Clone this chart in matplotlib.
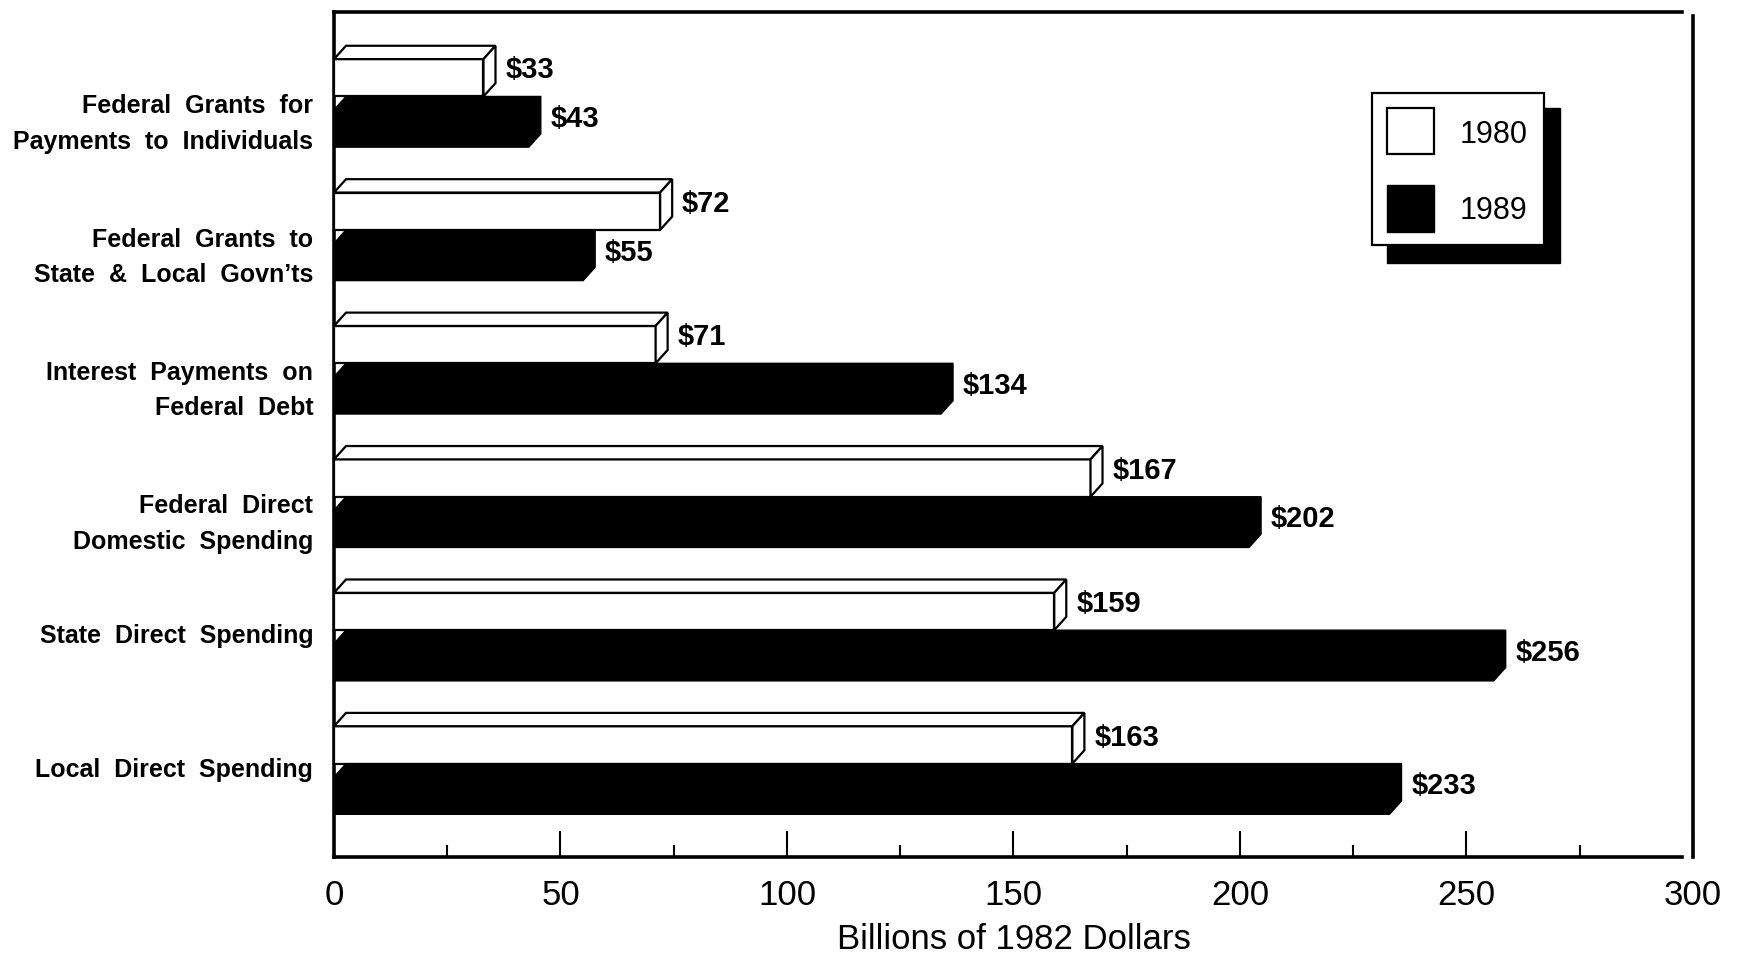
import matplotlib.pyplot as plt
from matplotlib.patches import Polygon, Rectangle
import numpy as np

plt.rcParams['font.family'] = ['Liberation Sans', 'DejaVu Sans']

# Spending categories, billions of 1982 dollars
categories = [
    "Federal  Grants  for\nPayments  to  Individuals",
    "Federal  Grants  to\nState  &  Local  Govn\u2019ts",
    "Interest  Payments  on\nFederal  Debt",
    "Federal  Direct\nDomestic  Spending",
    "State  Direct  Spending",
    "Local  Direct  Spending",
]
spend_1980 = [33, 72, 71, 167, 159, 163]
spend_1989 = [43, 55, 134, 202, 256, 233]
years = ["1980", "1989"]

W, H = 1740, 955
fig = plt.figure(figsize=(W / 100, H / 100), dpi=100)
ax = fig.add_axes([334 / W, 1 - 857 / H, (1693 - 334) / W, (857 - 12) / H])
ax.set_xlim(0, 300)
ax.set_ylim(5.70, -0.633)

front = 0.28     # height of a bar's front face
dy = 0.10        # depth of the 3-D top face
dx = 2.65        # depth of the 3-D side face, in dollars

narrow = ['Liberation Sans Narrow', 'Liberation Sans', 'DejaVu Sans']

for i, (v80, v89) in enumerate(zip(spend_1980, spend_1989)):
    c = i
    top = c - front
    # 1980: open box with front, top and side faces
    faces = [
        [(0, c), (v80, c), (v80, top), (0, top)],
        [(0, top), (dx, top - dy), (v80 + dx, top - dy), (v80, top)],
        [(v80, c), (v80 + dx, c - dy), (v80 + dx, top - dy), (v80, top)],
    ]
    for f in faces:
        ax.add_patch(Polygon(f, closed=True, facecolor='white', edgecolor='black',
                             lw=1.6, joinstyle='miter', zorder=3))
    # 1989: solid box, all faces filled black
    bottom = c + dy + front
    ax.add_patch(Polygon([(0, bottom), (v89, bottom), (v89 + dx, bottom - dy),
                          (v89 + dx, c), (dx, c), (0, c + dy)],
                         closed=True, facecolor='black', edgecolor='black',
                         lw=1.0, zorder=3))
    ax.text(v80 + dx + 2.2, c - 0.195, f"${v80}", ha='left', va='center',
            fontsize=21, fontweight='bold')
    ax.text(v89 + dx + 2.2, c + 0.17, f"${v89}", ha='left', va='center',
            fontsize=21, fontweight='bold')

    label = categories[i]
    n = label.count("\n") + 1
    ax.text(-4.6, c + 0.045 + 0.16 * (n - 1), label, ha='right', va='center',
            multialignment='right', fontsize=18, fontweight='bold',
            family=narrow, linespacing=1.6)

# axes frame
for side in ['left', 'bottom', 'top', 'right']:
    ax.spines[side].set_linewidth(2.6)
ax.spines['top'].set_bounds(0, 297.5)
ax.spines['bottom'].set_bounds(0, 297.5)
ax.spines['right'].set_bounds(5.70, -0.60)

ax.set_xticks(np.arange(0, 301, 50))
ax.set_xticks(np.arange(25, 300, 50), minor=True)
ax.set_yticks([])
ax.tick_params(axis='x', which='major', direction='in', length=18.5, width=1.5,
               labelsize=25, pad=16)
ax.tick_params(axis='x', which='minor', direction='in', length=8.5, width=1.5)
ax.set_xlabel("Billions of 1982 Dollars", fontsize=25, labelpad=8)


def px_rect(x0, y0, x1, y1, **kw):
    return Rectangle((x0 / W, 1 - y1 / H), (x1 - x0) / W, (y1 - y0) / H,
                     transform=fig.transFigure, **kw)


# legend box with drop shadow
fig.patches.append(px_rect(1387, 108, 1560, 263, facecolor='black', edgecolor='black'))
fig.patches.append(px_rect(1372, 93, 1544, 245, facecolor='white', edgecolor='black', lw=1.6))
fig.patches.append(px_rect(1387, 108, 1434, 154, facecolor='white', edgecolor='black', lw=1.6))
fig.patches.append(px_rect(1387, 185, 1434, 232, facecolor='black', edgecolor='black'))
fig.text(1460 / W, 1 - 135 / H, years[0], ha='left', va='center', fontsize=22)
fig.text(1460 / W, 1 - 211 / H, years[1], ha='left', va='center', fontsize=22)

fig.savefig('out.png', dpi=100)
